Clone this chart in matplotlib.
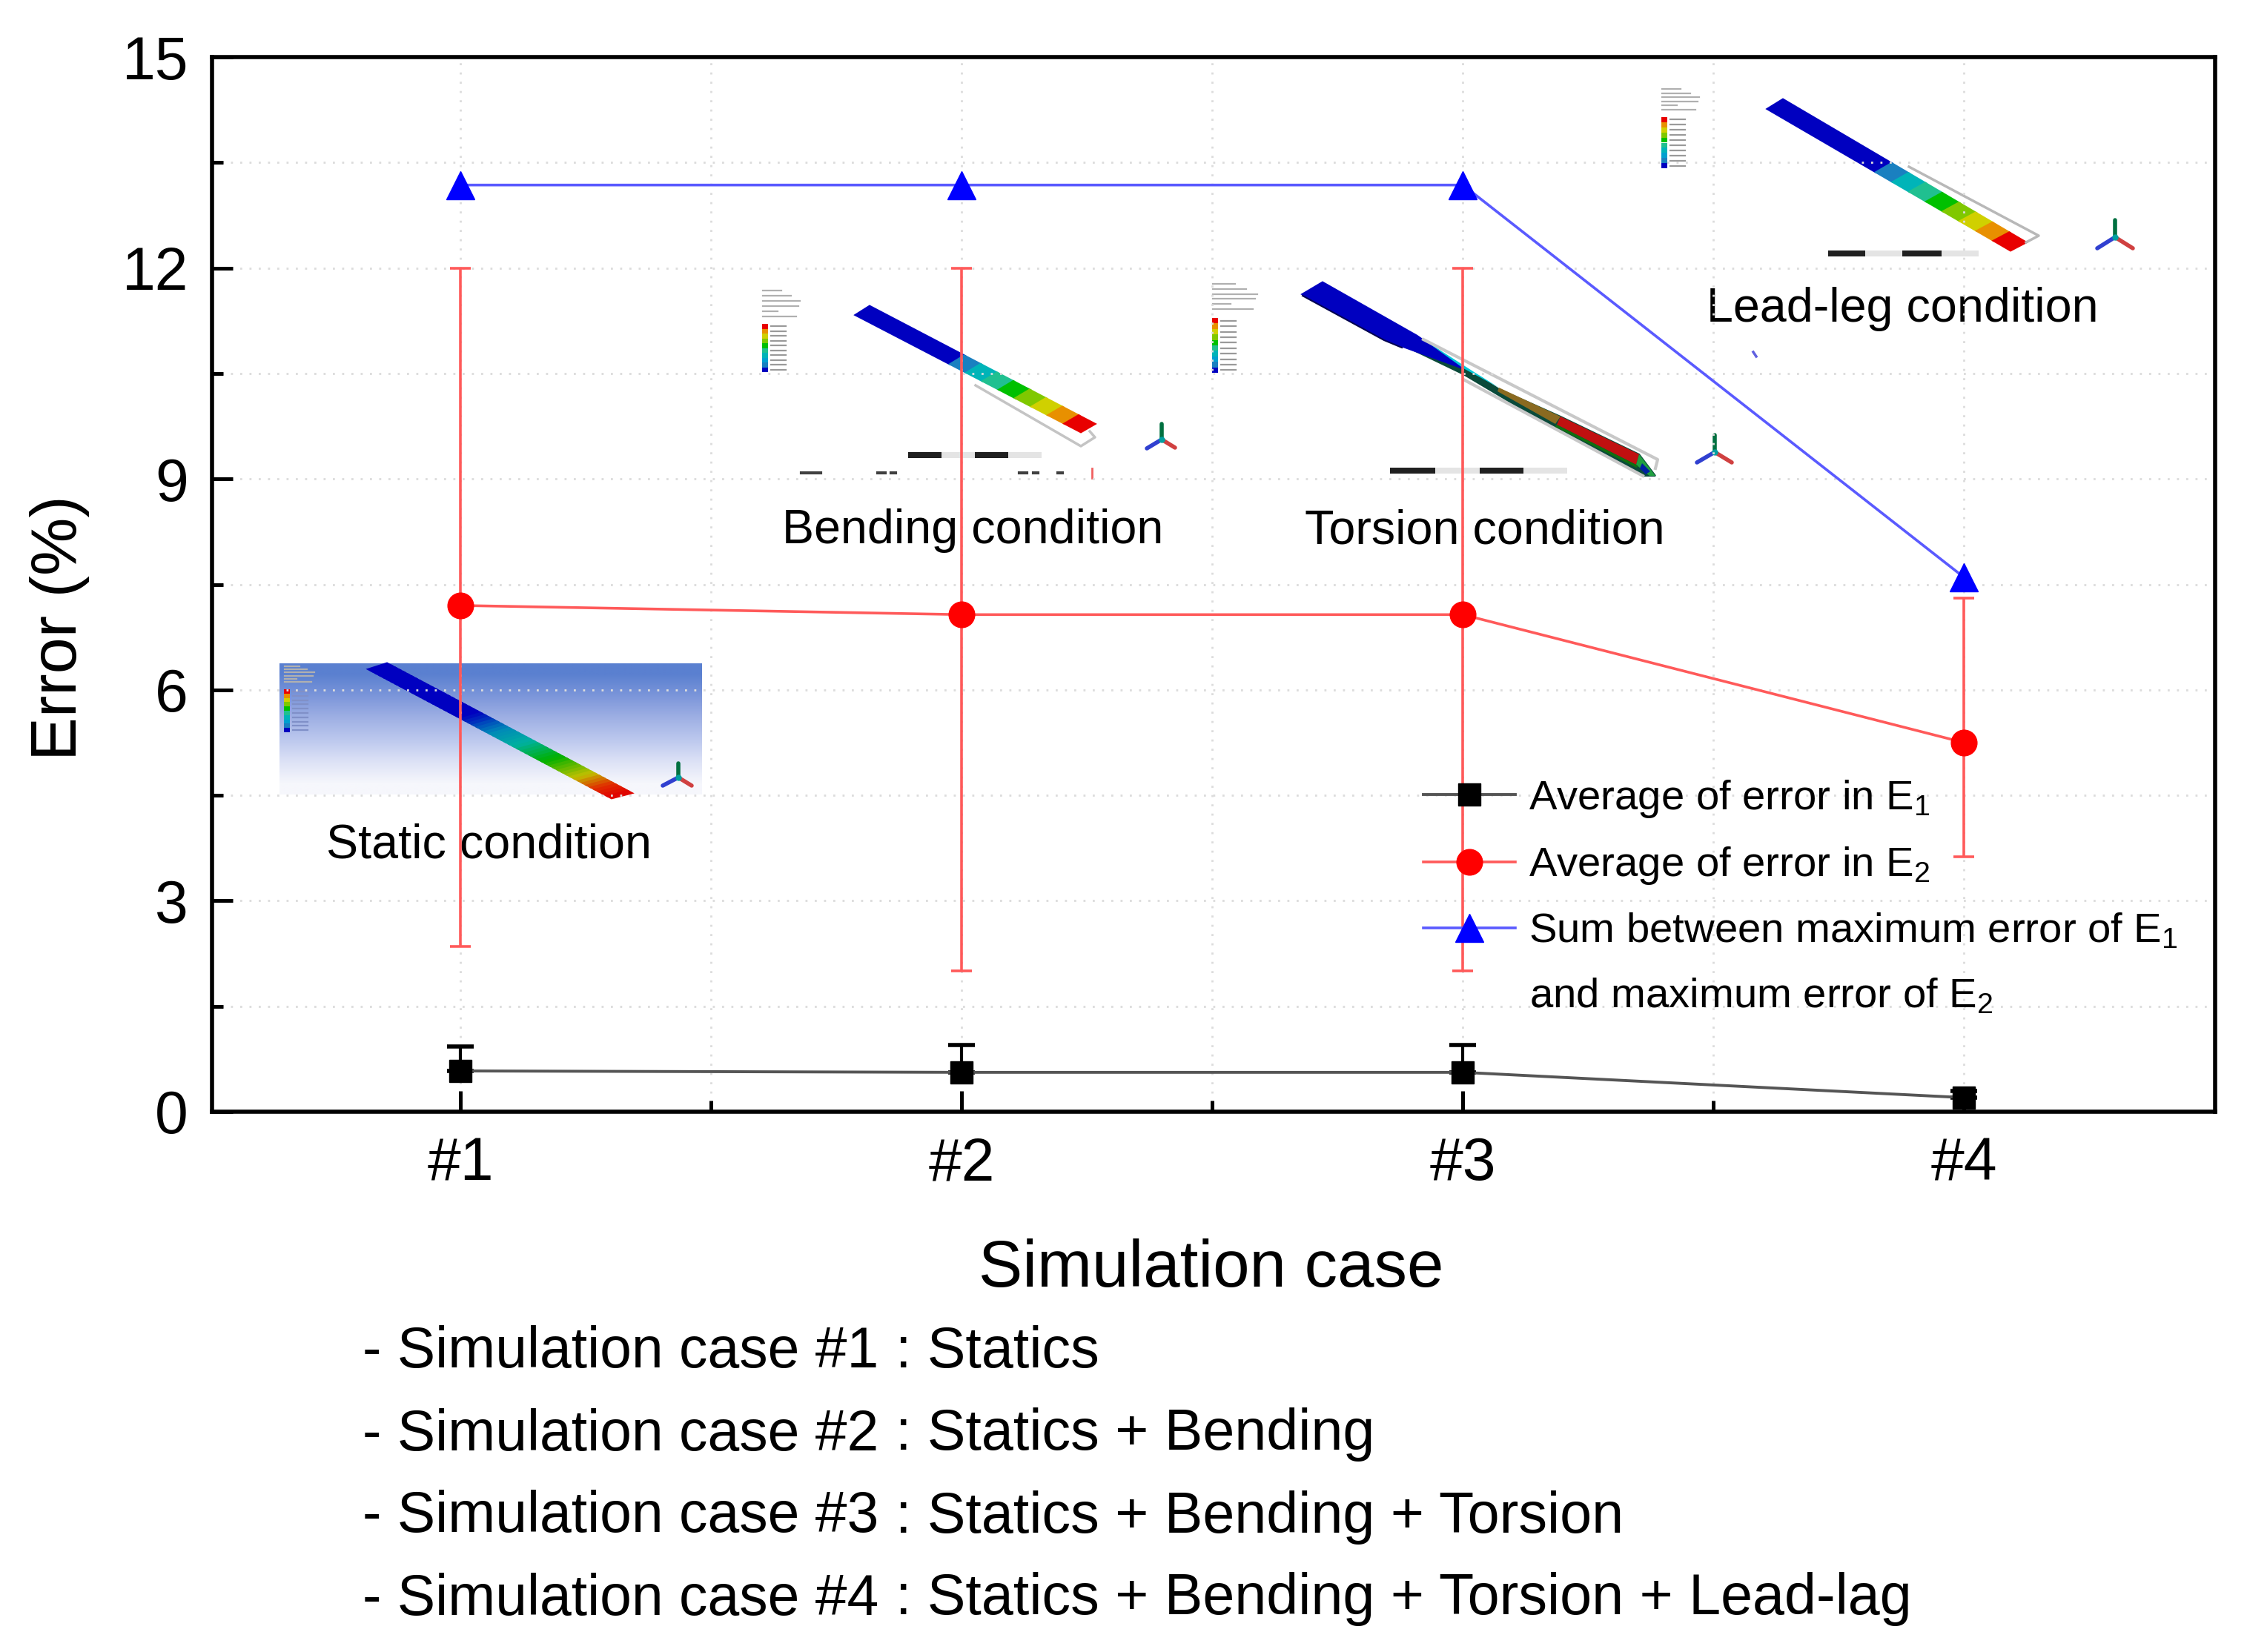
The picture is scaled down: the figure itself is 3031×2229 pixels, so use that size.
import numpy as np
import matplotlib
matplotlib.use('Agg')
import matplotlib.pyplot as plt
from matplotlib.colors import LinearSegmentedColormap, to_rgb
from matplotlib.patches import Polygon, Rectangle

plt.rcParams['font.family'] = ['Liberation Sans', 'DejaVu Sans']
plt.rcParams['mathtext.fontset'] = 'custom'
plt.rcParams['mathtext.rm'] = 'Liberation Sans'
plt.rcParams['mathtext.default'] = 'rm'

# chart data
cases = [1, 2, 3, 4]
case_labels = ['#1', '#2', '#3', '#4']
avg_e1 = [0.58, 0.56, 0.56, 0.20]
e1_upper = [0.93, 0.95, 0.95, 0.30]
avg_e2 = [7.20, 7.07, 7.07, 5.25]
e2_upper = [12.0, 12.0, 12.0, 7.30]
e2_lower = [2.35, 2.00, 2.00, 3.63]
sum_max = [13.18, 13.18, 13.18, 7.60]

case_lines = [
    ('- Simulation case #1', ': Statics'),
    ('- Simulation case #2', ': Statics + Bending'),
    ('- Simulation case #3', ': Statics + Bending + Torsion'),
    ('- Simulation case #4', ': Statics + Bending + Torsion + Lead-lag'),
]

BLACK = '#555555'
RED = '#ff5a5a'
BLUE = '#5a5aff'
W, H = 3031, 2229

fig = plt.figure(figsize=(W / 100, H / 100), dpi=100, facecolor='white')

# pixel canvas under the chart for the FE pictures
bg = fig.add_axes([0, 0, 1, 1], zorder=0)
bg.axis('off')

stress = LinearSegmentedColormap.from_list('stress', [
    (0.0, '#0000c0'), (0.38, '#0000c0'), (0.50, '#0088b8'), (0.60, '#00b0a0'),
    (0.72, '#00b000'), (0.85, '#c0c000'), (0.93, '#e03000'), (1.0, '#e00000')])
bands = ['#1a80c0', '#00b4b8', '#20c090', '#00c000', '#80c800', '#d0d000', '#e89000', '#e80000']


def strip(a0, b0, a1, b1, cols):
    # cols is a list of (start fraction, end fraction, colour)
    a0, b0, a1, b1 = [np.array(p, float) for p in (a0, b0, a1, b1)]
    for f0, f1, c in cols:
        pts = [a0 + (a1 - a0) * f0, a0 + (a1 - a0) * f1, b0 + (b1 - b0) * f1, b0 + (b1 - b0) * f0]
        bg.add_patch(Polygon(pts, closed=True, fc=c, ec=c, lw=2))


def banded(start):
    cols = [(0, start, '#0000c0')]
    step = (1 - start) / len(bands)
    for i, c in enumerate(bands):
        cols.append((start + i * step, start + (i + 1) * step, c))
    return cols


def scale_legend(x, y0, y1, head_top, head_bottom, head_w=50, col='#9a9a9a'):
    n = 10
    h = (y1 - y0) / n
    colours = ['#e80000', '#e89000', '#d0d000', '#80c800', '#00c000', '#20c090', '#00b4b8', '#00a0d0', '#1a80c0', '#0000c0']
    for i in range(n):
        bg.add_patch(Rectangle((x - 4, y0 + i * h), 8, h, fc=colours[i], ec='none'))
        bg.plot([x + 8, x + 28], [y0 + i * h + h / 2] * 2, color=col, lw=1.6)
    widths = [0.5, 0.75, 1.0, 0.95, 0.4, 0.9]
    for i, f in enumerate(widths):
        yy = head_top + (head_bottom - head_top) * i / 5
        bg.plot([x - 3, x - 3 + head_w * f], [yy, yy], color='#b0b0b0', lw=1.6)


def triad(x, y, top, lx, ly, rx, ry):
    bg.plot([x, x], [y, top], color='#007040', lw=4, solid_capstyle='round')
    bg.plot([x, lx], [y, ly], color='#3040d0', lw=4, solid_capstyle='round')
    bg.plot([x, rx], [y, ry], color='#d04040', lw=4, solid_capstyle='round')
    bg.plot([x], [y], 'o', color='#00a0a0', ms=5)


def scale_bar(x0, x1, x2, x3, x4, y):
    bg.add_patch(Rectangle((x0, y - 4), x4 - x0, 8, fc='#e4e4e4', ec='none'))
    bg.add_patch(Rectangle((x0, y - 4), x1 - x0, 8, fc='#202020', ec='none'))
    bg.add_patch(Rectangle((x2, y - 4), x3 - x2, 8, fc='#202020', ec='none'))


# static picture, background fades from blue to white
fade = [to_rgb(c) for c in ['#5a80d0', '#7c96da', '#9fb0e4', '#bcc8ee', '#dde2f6', '#f6f7fc']]
bg.imshow(np.array(fade).reshape(-1, 1, 3), extent=(377, 947, 1072, 895),
          aspect='auto', interpolation='bilinear', zorder=0)
bg.set_xlim(0, W)
bg.set_ylim(H, 0)
smooth = [(i / 60, (i + 1) / 60, stress((i + 0.5) / 60)) for i in range(60)]
strip((522, 895), (497, 903), (852, 1070), (825, 1077), smooth)
scale_legend(387, 930, 988, 899, 920, head_w=40, col='#8090c8')
triad(915, 1049, 1030, 894, 1060, 933, 1060)

# bending picture
bg.plot([1316, 1458, 1477, 1470], [520, 602, 590, 582], color='#c4c4c4', lw=2.5)
strip((1173, 413), (1154, 425), (1477, 572), (1458, 583), banded(0.42))
scale_legend(1032, 437, 502, 392, 427)
scale_bar(1225, 1270, 1315, 1360, 1405, 614)
for x0, x1 in [(1081, 1107), (1184, 1194), (1202, 1208), (1375, 1385), (1394, 1400), (1427, 1433)]:
    bg.plot([x0, x1], [638, 638], color='#404040', lw=3)
bg.plot([1473, 1473], [632, 645], color='#f06060', lw=2)
triad(1567, 593, 572, 1547, 605, 1585, 604)

# torsion picture
bg.plot([1920, 2236, 2233], [458, 620, 632], color='#c8c8c8', lw=3)
bg.plot([1974, 2216], [512, 642], color='#c8c8c8', lw=3)
bg.add_patch(Polygon([(1891, 465), (1974, 495), (2022, 525), (2105, 562), (2211, 613), (2233, 642),
                      (2216, 642), (2100, 580), (1974, 505)], fc='#0a4a3a', ec='#0a4a3a', lw=1.5))
bg.add_patch(Polygon([(1784, 381), (1911, 453), (1974, 497), (1891, 467), (1867, 457), (1757, 397)],
                     fc='#0000c0', ec='#0000c0', lw=2))
bg.plot([1757, 1867, 1891], [399, 459, 469], color='#000050', lw=1.5)
bg.add_patch(Polygon([(1920, 458), (1990, 503), (2022, 523), (1974, 497)], fc='#00c8d8', ec='none'))
bg.add_patch(Polygon([(2022, 523), (2105, 562), (2098, 572), (2020, 528)], fc='#8a6a20', ec='none'))
bg.add_patch(Polygon([(2105, 562), (2211, 613), (2207, 627), (2100, 573)], fc='#c01010', ec='none'))
bg.plot([2100, 2207], [575, 629], color='#107010', lw=2.5)
bg.add_patch(Polygon([(2211, 613), (2233, 642), (2225, 642), (2207, 627)], fc='#20a040', ec='none'))
bg.add_patch(Polygon([(2215, 625), (2226, 636), (2220, 640), (2212, 632)], fc='#0020a0', ec='none'))
scale_legend(1639, 429, 503, 383, 417, head_w=60)
scale_bar(1875, 1936, 1996, 2055, 2114, 635)
triad(2313, 610, 587, 2289, 624, 2336, 624)

# lead-lag picture
bg.plot([2575, 2750, 2733], [225, 318, 327], color='#b8b8b8', lw=2.5)
strip((2405, 134), (2384, 147), (2733, 327), (2712, 338), banded(0.447))
scale_legend(2245, 158, 227, 120, 148)
scale_bar(2466, 2516, 2566, 2619, 2669, 342)
triad(2853, 320, 297, 2829, 335, 2877, 335)
bg.plot([2365, 2369], [475, 481], color='#6060e0', lw=2.5)

# labels of the pictures
bg.text(659, 1140, 'Static condition', fontsize=46.5, ha='center', va='center')
bg.text(1312, 716, 'Bending condition', fontsize=46.5, ha='center', va='center')
bg.text(2003, 716, 'Torsion condition', fontsize=46.5, ha='center', va='center')
bg.text(2566, 417, 'Lead-leg condition', fontsize=46.5, ha='center', va='center')

ax = fig.add_axes([286 / W, 1 - 1500 / H, (2988 - 286) / W, (1500 - 77) / H], zorder=1)
ax.patch.set_alpha(0)

ax.errorbar(cases, avg_e2,
            yerr=[np.array(avg_e2) - np.array(e2_lower), np.array(e2_upper) - np.array(avg_e2)],
            fmt='none', ecolor=RED, elinewidth=2.6, capsize=10, capthick=2.6, zorder=3)
ax.errorbar(cases, avg_e1,
            yerr=[np.zeros(4), np.array(e1_upper) - np.array(avg_e1)],
            fmt='none', ecolor='black', elinewidth=3, capsize=13, capthick=4, zorder=3)
l1, = ax.plot(cases, avg_e1, color=BLACK, lw=2.8, marker='s', ms=21, mfc='black', mec='black', zorder=4)
l2, = ax.plot(cases, avg_e2, color=RED, lw=2.6, marker='o', ms=25, mfc='#ff0000', mec='#ff0000', zorder=4)
l3, = ax.plot(cases, sum_max, color=BLUE, lw=2.6, marker='^', ms=27, mfc='#0000ff', mec='#0000ff', zorder=4)

ax.set_xlim(0.504, 4.501)
ax.set_ylim(0, 15)
ax.set_xticks(cases)
ax.set_xticklabels(case_labels)
ax.set_xticks([1.5, 2.5, 3.5], minor=True)
ax.set_yticks([0, 3, 6, 9, 12, 15])
ax.set_yticks([1.5, 4.5, 7.5, 10.5, 13.5], minor=True)
ax.tick_params(which='major', direction='in', length=20, width=3.6, labelsize=58)
ax.tick_params(which='minor', direction='in', length=11, width=3.6)
ax.tick_params(axis='x', which='major', pad=24)
ax.tick_params(axis='y', which='major', pad=23)
ax.grid(True, which='both', color='#dcdcdc', lw=2, ls=(0, (1, 3.5)))
ax.set_axisbelow(True)
for s in ax.spines.values():
    s.set_linewidth(4)

bg.text(1634, 1713, 'Simulation case', fontsize=64, ha='center', va='center')
bg.text(81, 847, 'Error (%)', fontsize=63.5, rotation=90, ha='center', va='center')

leg_labels = ['Average of error in E$_{1}$', 'Average of error in E$_{2}$', 'Sum between maximum error of E$_{1}$']
ax.legend([l1, l2, l3], leg_labels, loc='upper left', bbox_to_anchor=(1920, 1050), bbox_transform=bg.transData,
          frameon=False, fontsize=40.5, borderpad=0, borderaxespad=0, handlelength=2.2, handletextpad=0.32,
          labelspacing=0.61, numpoints=1)
ax.text(2063, 1345, 'and maximum error of E$_{2}$', fontsize=40.5, va='center', ha='left',
        transform=bg.transData)

for (left, right), y in zip(case_lines, [1825, 1936, 2047, 2158]):
    bg.text(489, y, left, fontsize=55.4, va='center', ha='left')
    bg.text(1208, y, right, fontsize=55.6, va='center', ha='left')

fig.savefig('out.png', dpi=100)
